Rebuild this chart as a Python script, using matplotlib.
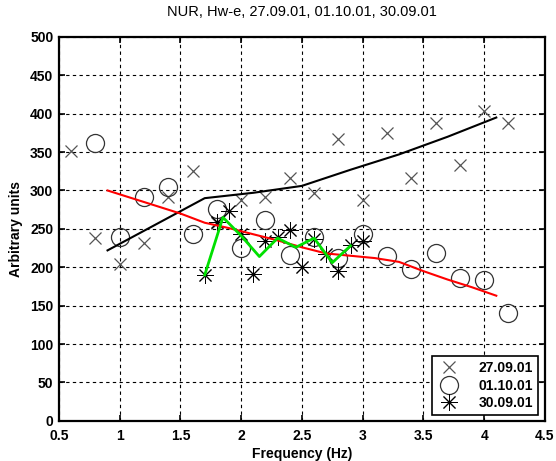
import numpy as np
import matplotlib
matplotlib.use('Agg')
import matplotlib.pyplot as plt

# 27.09.01 (x markers)
f_2709 = [0.6, 0.8, 1.0, 1.2, 1.4, 1.6, 1.8, 2.0, 2.2, 2.4, 2.6, 2.8, 3.0, 3.2, 3.4, 3.6, 3.8, 4.0, 4.2]
v_2709 = [352, 238, 204, 232, 292, 325, 258, 288, 292, 316, 297, 367, 288, 375, 316, 388, 333, 403, 388]

# 01.10.01 (circles)
f_0110 = [0.8, 1.0, 1.2, 1.4, 1.6, 1.8, 2.0, 2.2, 2.4, 2.6, 2.8, 3.0, 3.2, 3.4, 3.6, 3.8, 4.0, 4.2]
v_0110 = [362, 239, 291, 304, 243, 276, 225, 262, 216, 240, 212, 243, 215, 198, 218, 186, 183, 141]

# 30.09.01 (stars)
f_3009 = [1.7, 1.8, 1.9, 2.0, 2.1, 2.2, 2.3, 2.4, 2.5, 2.6, 2.7, 2.8, 2.9, 3.0]
v_3009 = [190, 259, 273, 243, 191, 234, 240, 249, 200, 237, 217, 195, 229, 234]

# trend lines
f_black = [0.9, 1.3, 1.7, 2.1, 2.5, 2.9, 3.3, 3.7, 4.1]
v_black = [222, 256, 290, 297, 306, 327, 347, 370, 395]

f_red = [0.9, 1.1, 1.3, 1.5, 1.7, 1.9, 2.1, 2.3, 2.5, 2.7, 2.9, 3.1, 3.3, 3.5, 3.7, 3.9, 4.1]
v_red = [300, 290, 280, 270, 258, 251, 243, 235, 226, 218, 215, 212, 207, 195, 184, 174, 163]

f_green = [1.7, 1.85, 2.0, 2.15, 2.3, 2.45, 2.6, 2.75, 2.9]
v_green = [190, 265, 241, 214, 238, 226, 238, 206, 228]

x_ticks = [0.5, 1, 1.5, 2, 2.5, 3, 3.5, 4, 4.5]
x_labels = ['0.5', '1', '1.5', '2', '2.5', '3', '3.5', '4', '4.5']
y_ticks = list(range(0, 501, 50))

plt.rcParams['font.family'] = ['Liberation Sans', 'DejaVu Sans']

fig = plt.figure(figsize=(5.56, 4.61), dpi=100)
ax = fig.add_axes([0.106, 0.087, 0.874, 0.833])

ax.plot(f_2709, v_2709, linestyle='none', marker='x', markersize=9,
        markeredgewidth=0.9, color='#555555', label='27.09.01', zorder=3)
ax.plot(f_0110, v_0110, linestyle='none', marker='o', markersize=13,
        markerfacecolor='none', markeredgewidth=0.9, color='#333333',
        label='01.10.01', zorder=3)
ax.plot(f_3009, v_3009, linestyle='none', marker=(8, 2, 0), markersize=12,
        markeredgewidth=0.7, color='black', label='30.09.01', zorder=3)

ax.plot(f_black, v_black, color='black', linewidth=1.5, zorder=4)
ax.plot(f_red, v_red, color='#ff0000', linewidth=1.5, zorder=4)
ax.plot(f_green, v_green, color='#00e000', linewidth=2.0, zorder=5)

ax.set_xlim(0.5, 4.5)
ax.set_ylim(0, 500)
ax.set_xticks(x_ticks)
ax.set_xticklabels(x_labels)
ax.set_yticks(y_ticks)

ax.grid(True, color='black', linestyle=(0, (3, 3)), linewidth=0.8)
ax.tick_params(direction='in', top=True, right=True, length=4, width=1.2,
               labelsize=10)
ax.tick_params(axis='x', pad=6)
ax.tick_params(axis='y', pad=4)
for lab in ax.get_xticklabels() + ax.get_yticklabels():
    lab.set_fontweight('bold')
for sp in ax.spines.values():
    sp.set_linewidth(1.6)

ax.set_title('NUR, Hw-e, 27.09.01, 01.10.01, 30.09.01', fontsize=10.5, pad=15)
ax.set_xlabel('Frequency (Hz)', fontsize=10, fontweight='bold', labelpad=3)
ax.set_ylabel('Arbitrary units', fontsize=10, fontweight='bold', labelpad=5)

leg = ax.legend(loc='lower right', bbox_to_anchor=(0.985, 0.015),
                prop={'size': 10, 'weight': 'bold'}, fancybox=False,
                framealpha=1, edgecolor='black', handlelength=1.8,
                handletextpad=1.2, borderpad=0.35, labelspacing=0.25,
                borderaxespad=0)
leg.get_frame().set_linewidth(1.2)

fig.savefig('out.png', dpi=100)
